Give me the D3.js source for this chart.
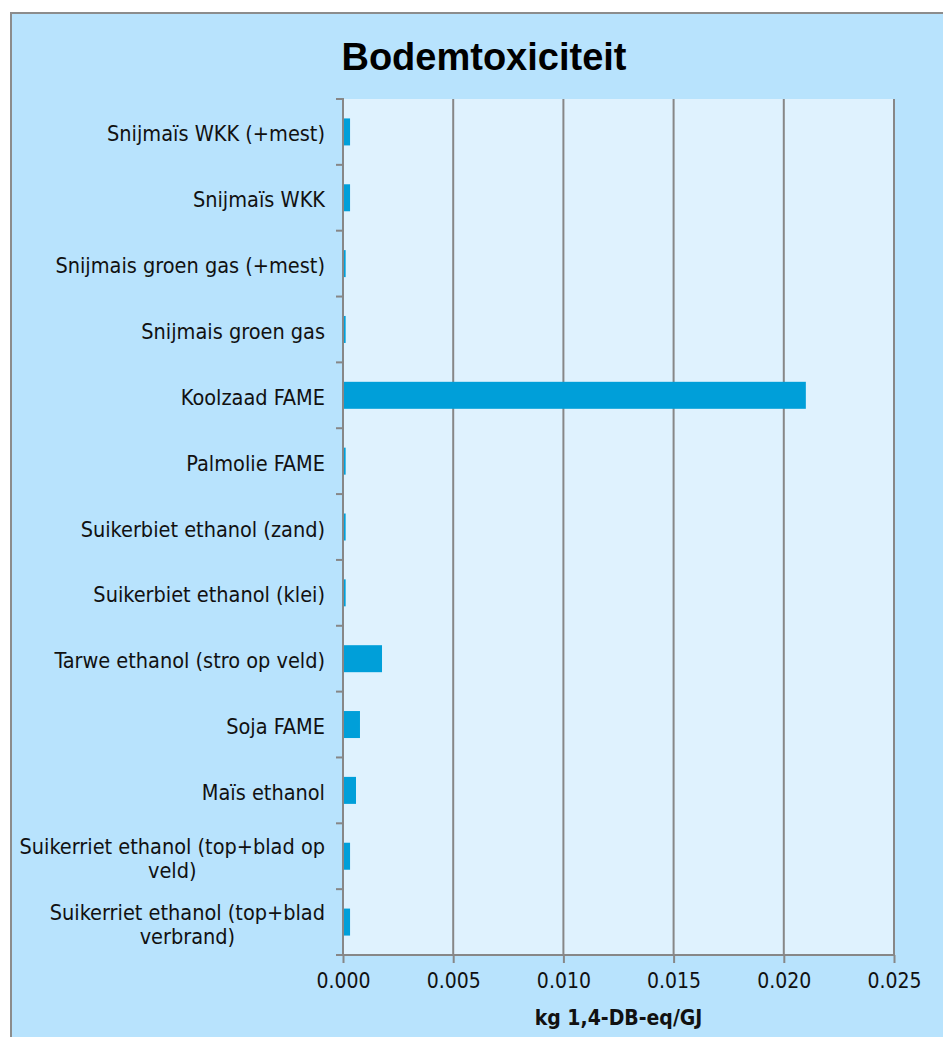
<!DOCTYPE html>
<html lang="nl">
<head>
    <meta charset="UTF-8">
    <title>Bodemtoxiciteit</title>
    <script type="text/javascript" src="https://cdn.jsdelivr.net/npm/d3@7"></script>
    <style type="text/css">
        body { margin: 0; background: #ffffff; }
        svg { display: block; }
        .cat, .tick text { font-family: "DejaVu Sans Condensed", "DejaVu Sans", sans-serif; fill: #111; }
    </style>
</head>
<body>
    <script type="text/javascript">

        var w = 943;
        var h = 1037;

        // categories, top to bottom
        var categories = [
            "Snijmaïs WKK (+mest)",
            "Snijmaïs WKK",
            "Snijmais groen gas (+mest)",
            "Snijmais groen gas",
            "Koolzaad FAME",
            "Palmolie FAME",
            "Suikerbiet ethanol (zand)",
            "Suikerbiet ethanol (klei)",
            "Tarwe ethanol (stro op veld)",
            "Soja FAME",
            "Maïs ethanol",
            "Suikerriet ethanol (top+blad op veld)",
            "Suikerriet ethanol (top+blad verbrand)"
        ];

        // kg 1,4-DB-eq/GJ
        var values = [0.00032, 0.00032, 0.00012, 0.00012, 0.0210, 0.00012, 0.00012, 0.00012,
                      0.00177, 0.00077, 0.00059, 0.00032, 0.00032];

        var xTicks = [0, 0.005, 0.010, 0.015, 0.020, 0.025];

        var title = "Bodemtoxiciteit";
        var xTitle = "kg 1,4-DB-eq/GJ";

        var plot = { left: 343, right: 894, top: 99, bottom: 955 };

        var svg = d3.select("body")
                    .append("svg")
                    .attr("width", w)
                    .attr("height", h);

        // chart frame (runs off the right and bottom of the picture)
        svg.append("rect")
            .attr("x", 11).attr("y", 13)
            .attr("width", 1000).attr("height", 1100)
            .attr("fill", "#b8e3fd")
            .attr("stroke", "#8c8c8c")
            .attr("stroke-width", 2);

        svg.append("text")
            .attr("x", 484).attr("y", 70)
            .attr("text-anchor", "middle")
            .attr("font-family", "Liberation Sans, Arial, sans-serif")
            .attr("font-weight", "bold")
            .attr("font-size", "38px")
            .attr("fill", "#000")
            .text(title);

        var x = d3.scaleLinear().domain([0, 0.025]).range([plot.left, plot.right]);
        var y = d3.scaleBand().domain(categories).range([plot.top, plot.bottom])
                  .paddingInner(0.59).paddingOuter(0.295);

        svg.append("rect")
            .attr("x", plot.left).attr("y", plot.top)
            .attr("width", plot.right - plot.left).attr("height", plot.bottom - plot.top)
            .attr("fill", "#dff2fe");

        // gridlines
        svg.selectAll("line.grid")
            .data(xTicks.slice(1))
            .enter()
            .append("line")
            .attr("class", "grid")
            .attr("x1", function(d) { return x(d); })
            .attr("x2", function(d) { return x(d); })
            .attr("y1", plot.top)
            .attr("y2", plot.bottom)
            .attr("stroke", "#878787")
            .attr("stroke-width", 2);

        // bars
        svg.selectAll("rect.bar")
            .data(values)
            .enter()
            .append("rect")
            .attr("class", "bar")
            .attr("x", x(0))
            .attr("y", function(d, i) { return y(categories[i]); })
            .attr("width", function(d) { return x(d) - x(0); })
            .attr("height", y.bandwidth())
            .attr("fill", "#009fd9");

        // x axis
        var xAxis = d3.axisBottom(x).tickValues(xTicks).tickFormat(d3.format(".3f"))
                      .tickSize(8).tickSizeOuter(0).tickPadding(8);
        var gx = svg.append("g")
            .attr("transform", "translate(0," + plot.bottom + ")")
            .call(xAxis);
        gx.select(".domain").attr("stroke", "#878787").attr("stroke-width", 2)
            .attr("d", "M" + (plot.left - 7) + ",0H" + plot.right);
        gx.selectAll(".tick line").attr("stroke", "#878787").attr("stroke-width", 2);
        gx.selectAll(".tick text").attr("font-size", "21px").attr("dy", "0.8em");

        // y axis line and band ticks
        var bounds = categories.map(function(c) { return y(c) - y.step() * y.paddingInner() / 2; });
        bounds.push(plot.bottom);
        svg.selectAll("line.ytick")
            .data(bounds)
            .enter()
            .append("line")
            .attr("x1", plot.left - 7).attr("x2", plot.left)
            .attr("y1", function(d) { return d; })
            .attr("y2", function(d) { return d; })
            .attr("stroke", "#878787")
            .attr("stroke-width", 2);
        svg.append("line")
            .attr("x1", plot.left).attr("x2", plot.left)
            .attr("y1", plot.top - 1).attr("y2", plot.bottom)
            .attr("stroke", "#878787")
            .attr("stroke-width", 2);

        // category labels, wrapped, lines centred in a right-aligned block
        var labelRight = 325, maxWidth = 312, lineH = 24, labelSize = "21.5px";
        categories.forEach(function(c) {
            var g = svg.append("g");
            var words = c.split(" ");
            var lines = [], cur = "";
            var probe = g.append("text").attr("class", "cat").attr("font-size", labelSize);
            words.forEach(function(wd) {
                var t = cur ? cur + " " + wd : wd;
                probe.text(t);
                if (probe.node().getComputedTextLength() > maxWidth && cur) {
                    lines.push(cur);
                    cur = wd;
                } else {
                    cur = t;
                }
            });
            lines.push(cur);
            var widths = lines.map(function(l) { probe.text(l); return probe.node().getComputedTextLength(); });
            probe.remove();
            var bw = d3.max(widths);
            var cy = y(c) + y.bandwidth() / 2 + 2;
            lines.forEach(function(l, k) {
                g.append("text")
                    .attr("class", "cat")
                    .attr("font-size", labelSize)
                    .attr("text-anchor", "middle")
                    .attr("x", labelRight - bw / 2)
                    .attr("y", cy + (k - (lines.length - 1) / 2) * lineH)
                    .attr("dy", "0.35em")
                    .text(l);
            });
        });

        svg.append("text")
            .attr("x", (plot.left + plot.right) / 2)
            .attr("y", 1025)
            .attr("text-anchor", "middle")
            .attr("font-family", "DejaVu Sans Condensed, DejaVu Sans, sans-serif")
            .attr("font-weight", "bold")
            .attr("font-size", "21px")
            .attr("fill", "#111")
            .text(xTitle);

    </script>
</body>
</html>
